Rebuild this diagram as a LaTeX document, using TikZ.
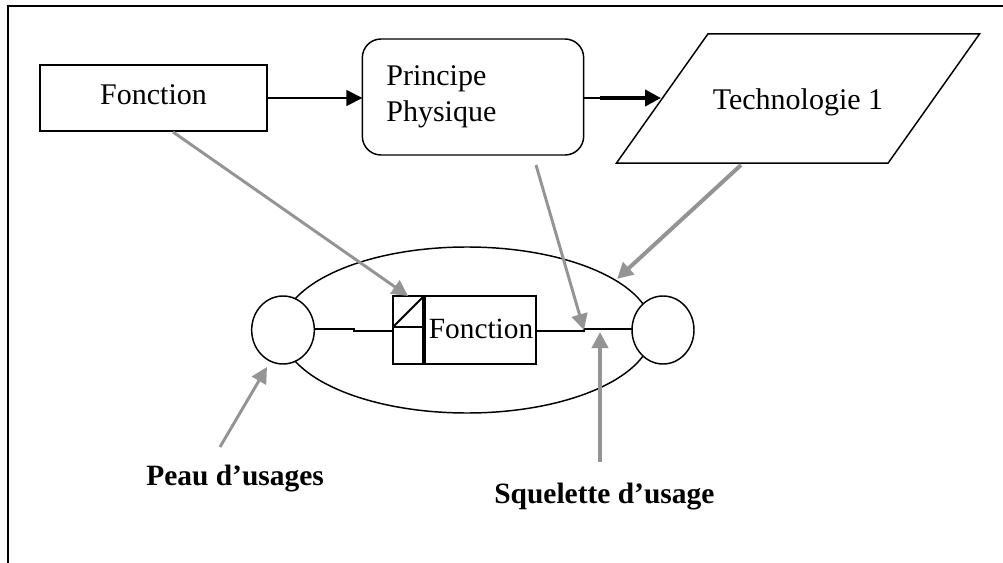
\documentclass[tikz,border=0pt]{standalone}
\usepackage{fontspec}
\setmainfont{Liberation Serif}
\usetikzlibrary{shapes.geometric,arrows.meta}
\tikzset{
  x=0.75pt,y=-0.75pt,
  txt/.style={font=\fontsize{22.5}{27}\selectfont},
  shape box/.style={draw=black,line width=1.5pt,fill=white,inner sep=0pt,outer sep=0pt},
  thin shape/.style={shape box,line width=1.1pt},
  ball/.style={draw=black,line width=1.1pt,fill=white,shape=ellipse,inner sep=0pt,outer sep=0pt,minimum width=47pt,minimum height=51pt},
  flow/.style={draw=black,line width=1.1pt,-{Triangle[length=12pt,width=12pt]}},
  wire/.style={draw=black,line width=1.1pt},
  pointer/.style={draw=black!42,line width=2.2pt,-{Triangle[length=12pt,width=12pt]}},
  lbl/.style={font=\fontsize{22.1}{26}\selectfont\bfseries,inner sep=0pt,anchor=base west},
}
\begin{document}
\begin{tikzpicture}
\useasboundingbox (0,0) rectangle (1003,563);
\draw[line width=1.1pt,black] (8,563) -- (8,6) -- (1003,6);
% top row
\node[shape box,txt,minimum width=170pt,minimum height=50pt,text height=16.5pt,text depth=6.5pt] (f) at (153.5,98) {Fonction};
\node[thin shape,txt,rounded corners=14pt,minimum width=166pt,minimum height=87pt,text width=130pt,align=left,inner xsep=18pt] (p) at (473,97) {Principe\\Physique};
\node[thin shape,txt,shape=trapezium,trapezium left angle=54.7,trapezium right angle=125.3,minimum width=273pt,text height=16.5pt,text depth=0.5pt,inner ysep=37.25pt] (t) at (798,98.5) {Technologie 1};
\draw[flow] (f.east |- 0,98) -- (p.west |- 0,98);
\coordinate (tin) at (661,98);
\coordinate (pk) at (600,98);
\draw[wire] (p.east |- 0,98) -- (pk);
\draw[flow,line width=3pt] (pk) -- (tin);
% skin
\node[draw=black,line width=1.1pt,fill=white,shape=ellipse,inner sep=0pt,minimum width=278pt,minimum height=124.5pt] (sk) at (467,330) {};
\node[ball] (c1) at (283,330) {};
\node[ball,minimum width=46.5pt] (c2) at (663,330) {};
\node[shape box,fill=white,minimum width=107pt,minimum height=51pt,font=\fontsize{22}{26}\selectfont,text width=103pt,align=right,text height=18pt,text depth=6pt,inner xsep=2pt] (b) at (464.5,330) {Fonction};
\coordinate (bv1) at (424,296);
\coordinate (bv2) at (424,364);
\coordinate (bm1) at (393,327);
\coordinate (bm2) at (424,327);
\draw[line width=2.8pt] (bv1) -- (bv2);
\draw[wire,line width=1.4pt] (bm1) -- (bm2) (bm1) -- (bv1);
\coordinate (w1) at (354,329);
\coordinate (w2) at (354,331);
\coordinate (w3) at (584,331);
\coordinate (w4) at (584,329);
\draw[wire] (c1.east |- w1) -- (w1) -- (w2) -- (b.west |- w2);
\draw[wire] (b.east |- w3) -- (w3) -- (w4) -- (c2.west |- w4);
% grey pointers
\coordinate (g1a) at (173,132);\coordinate (g1b) at (408,296);
\coordinate (g2a) at (536,165);\coordinate (g2b) at (584,330);
\coordinate (g3a) at (741,165);\coordinate (g3b) at (617,279);
\coordinate (g4a) at (220,447);\coordinate (g4b) at (267,367);
\coordinate (g5a) at (600,462);\coordinate (g5b) at (600,332);
\draw[pointer] (g1a) -- (g1b);
\draw[pointer] (g2a) -- (g2b);
\draw[pointer,line width=3pt] (g3a) -- (g3b);
\draw[pointer] (g4a) -- (g4b);
\draw[pointer,line width=3pt] (g5a) -- (g5b);
\node[lbl] (l1) at (146,485) {Peau d’usages};
\node[lbl] (l2) at (494,503) {Squelette d’usage};
\end{tikzpicture}
\end{document}
